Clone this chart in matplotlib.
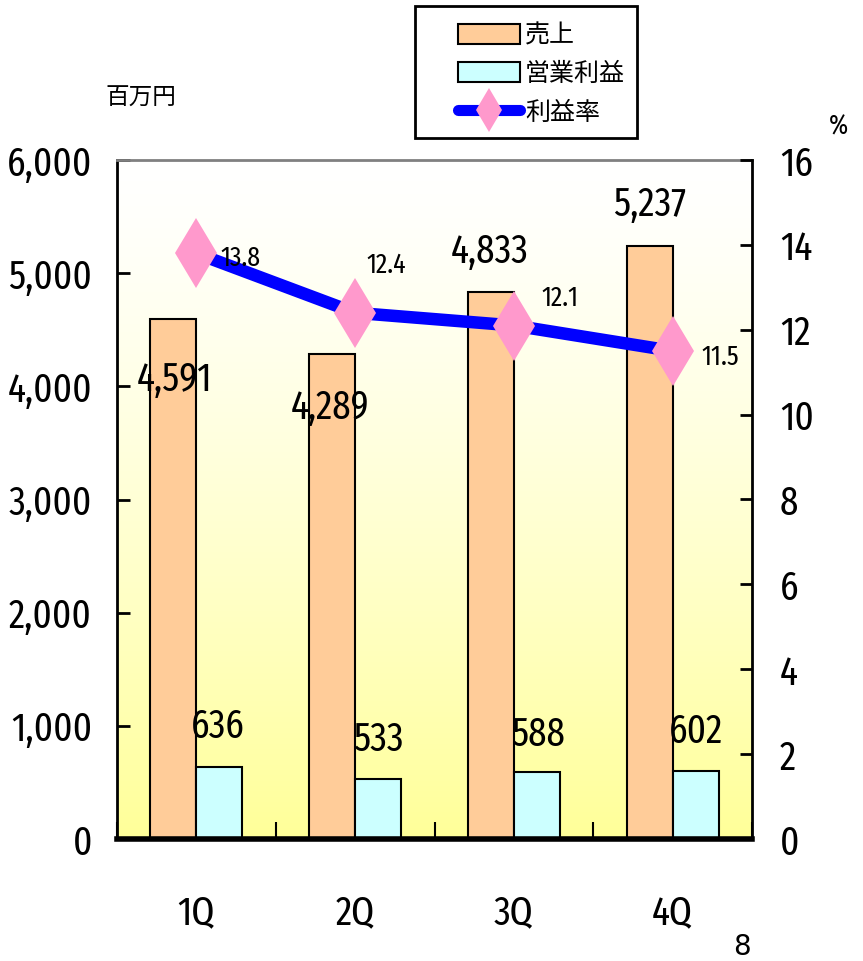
import numpy as np
import matplotlib
matplotlib.use("Agg")
import matplotlib.pyplot as plt
from matplotlib import font_manager as fm
from matplotlib.lines import Line2D
from matplotlib.patches import Patch, Rectangle

quarters = ["1Q", "2Q", "3Q", "4Q"]
sales = [4591, 4289, 4833, 5237]
profit = [636, 533, 588, 602]
margin = [13.8, 12.4, 12.1, 11.5]
sales_labels = ["4,591", "4,289", "4,833", "5,237"]
profit_labels = ["636", "533", "588", "602"]
margin_labels = ["13.8", "12.4", "12.1", "11.5"]
left_ticks = ["0", "1,000", "2,000", "3,000", "4,000", "5,000", "6,000"]


def pick_narrow():
    # look for any condensed / narrow face that is installed
    found = []
    for f in fm.fontManager.ttflist:
        nm = (f.name + " " + str(f.stretch) + " " + f.fname).lower()
        if f.style != "normal" or f.weight not in (400, "normal", "regular"):
            continue
        if "mono" in nm or "serif" in f.name.lower() and "sans" not in f.name.lower():
            continue
        score = None
        if "extracondensed" in nm.replace("-", "").replace(" ", "") or f.stretch == "extra-condensed":
            score = 0
        elif "narrow" in nm or "condensed" in nm or f.stretch in ("condensed", "semi-condensed"):
            score = 1
        if score is not None and "semi" not in nm:
            found.append((score, f.fname))
    found.sort()
    if found:
        return fm.FontProperties(fname=found[0][1]), True
    return fm.FontProperties(family="DejaVu Sans"), False


NUM_FP, NARROW = pick_narrow()
BIG = 29 if NARROW else 21
SMALL = 20 if NARROW else 14
JP_FONT = ["Noto Sans CJK JP", "DejaVu Sans"]


def nfp(size):
    fp = NUM_FP.copy()
    fp.set_size(size)
    return fp


fig = plt.figure(figsize=(8.63, 9.61), dpi=100)
W, H = 863, 961
ax = fig.add_axes([117 / W, 1 - 839 / H, (752 - 117) / W, (839 - 160) / H])

# background gradient white -> pale yellow
grad = np.linspace(0, 1, 256).reshape(-1, 1)
top = np.array([1.0, 1.0, 1.0])
bot = np.array([1.0, 1.0, 0.6])
img = top + (bot - top) * grad[:, :, None] ** 1.3
ax.imshow(img, extent=[0, 1, 0, 1], transform=ax.transAxes, aspect="auto",
          origin="upper", zorder=0)

x = np.arange(len(quarters))
w = 0.29
ax.bar(x - w / 2, sales, w, color="#FFCC99", edgecolor="black", linewidth=1.5, zorder=2)
ax.bar(x + w / 2, profit, w, color="#CCFFFF", edgecolor="black", linewidth=1.5, zorder=2)

ax.set_xlim(-0.5, 3.5)
ax.set_ylim(0, 6000)
ax.set_yticks(range(0, 6001, 1000))
ax.set_yticklabels(left_ticks, fontproperties=nfp(BIG))
ax.tick_params(axis="y", direction="in", length=9, width=2, pad=18)
ax.set_xticks([-0.5, 0.5, 1.5, 2.5, 3.5])
ax.set_xticklabels([])
ax.tick_params(axis="x", direction="in", length=12, width=1.5)
for i, q in enumerate(quarters):
    ax.text(i, -0.109, q, transform=ax.get_xaxis_transform(), ha="center", va="center",
            fontproperties=nfp(BIG))

ax.spines["top"].set_color("#808080")
ax.spines["top"].set_linewidth(2)
ax.spines["left"].set_linewidth(2)
ax.spines["bottom"].set_linewidth(4)
ax.spines["right"].set_visible(False)

ax2 = ax.twinx()
ax2.set_ylim(0, 16)
ax2.set_yticks(range(0, 17, 2))
ax2.set_yticklabels([str(v) for v in range(0, 17, 2)], fontproperties=nfp(BIG))
ax2.tick_params(axis="y", direction="in", length=9, width=2, pad=20)
for s in ["top", "left", "bottom"]:
    ax2.spines[s].set_visible(False)
ax2.spines["right"].set_linewidth(2)
ax2.plot(x, margin, color="#0000FF", linewidth=9, solid_capstyle="round", zorder=3)
ax2.plot(x, margin, linestyle="none", marker="d", markersize=36, color="#FF99CC",
         markeredgewidth=0, zorder=4)

# data labels, placed where the original chart puts them
sales_pos = [(-0.135, 4056), (0.842, 3808), (1.85, 5187), (2.857, 5602)]
for (px, py), t in zip(sales_pos, sales_labels):
    ax.text(px, py, t, ha="center", va="center", fontproperties=nfp(BIG), zorder=5)
profit_pos = [(0.136, 990), (1.144, 875), (2.15, 919), (3.15, 945)]
for (px, py), t in zip(profit_pos, profit_labels):
    ax.text(px, py, t, ha="center", va="center", fontproperties=nfp(BIG), zorder=5)
margin_pos = [(0.275, 13.69), (1.194, 13.52), (2.29, 12.75), (3.30, 11.36)]
for (px, py), t in zip(margin_pos, margin_labels):
    ax2.text(px, py, t, ha="center", va="center", fontproperties=nfp(SMALL), zorder=5)

fig.text(141 / W, 1 - 98 / H, "百万円", ha="center", va="center",
         fontfamily=JP_FONT, fontsize=17)
fig.text(838 / W, 1 - 127 / H, "%", ha="center", va="center", fontproperties=nfp(SMALL))
fig.text(742 / W, 1 - 947 / H, "8", ha="center", va="center",
         fontfamily=["DejaVu Sans"], fontsize=20)

# legend: box drawn separately so the entries can sit further right
fig.patches.append(Rectangle((415 / W, 1 - 138 / H), (637 - 415) / W, (138 - 6) / H,
                             transform=fig.transFigure, facecolor="white",
                             edgecolor="black", linewidth=2, zorder=0))
handles = [
    Patch(facecolor="#FFCC99", edgecolor="black", linewidth=1.5),
    Patch(facecolor="#CCFFFF", edgecolor="black", linewidth=1.5),
    Line2D([], [], color="#0000FF", linewidth=8, marker="d", markersize=22,
           markerfacecolor="#FF99CC", markeredgewidth=0, solid_capstyle="round"),
]
leg = fig.legend(handles, ["売上", "営業利益", "利益率"], loc="upper left",
                 bbox_to_anchor=(450 / W, 1 - 15 / H), prop={"family": JP_FONT, "size": 18},
                 frameon=False, handlelength=2.5, handleheight=0.85, labelspacing=0.5,
                 borderpad=0.3, handletextpad=0.2, borderaxespad=0)

fig.savefig("out.png", dpi=100)
